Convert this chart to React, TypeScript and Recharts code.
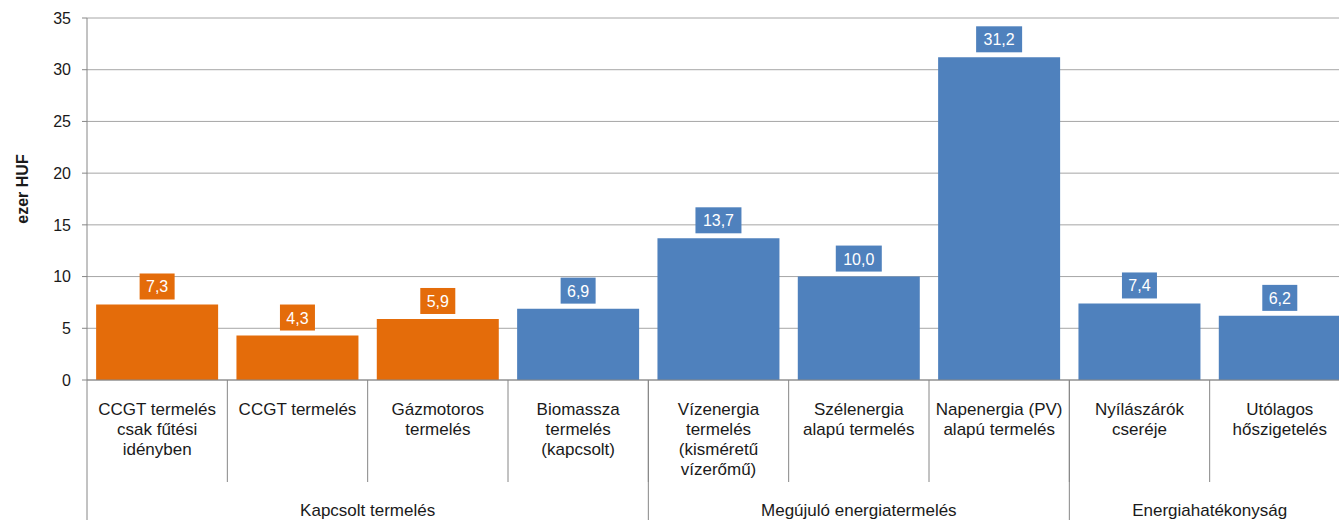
import { BarChart, Bar, Cell, XAxis, YAxis, CartesianGrid, LabelList } from "recharts"

const categories = [
  "CCGT termelés\ncsak fűtési\nidényben",
  "CCGT termelés",
  "Gázmotoros\ntermelés",
  "Biomassza\ntermelés\n(kapcsolt)",
  "Vízenergia\ntermelés\n(kisméretű\nvízerőmű)",
  "Szélenergia\nalapú termelés",
  "Napenergia (PV)\nalapú termelés",
  "Nyílászárók\ncseréje",
  "Utólagos\nhőszigetelés",
]
const values = [7.3, 4.3, 5.9, 6.9, 13.7, 10.0, 31.2, 7.4, 6.2]
const groups = ["Kapcsolt termelés", "Megújuló energiatermelés", "Energiahatékonyság"]
const groupSizes = [4, 3, 2]
const yTicks = [0, 5, 10, 15, 20, 25, 30, 35]

const ORANGE = "#E46C0A"
const BLUE = "#4F81BD"
const barColors = [ORANGE, ORANGE, ORANGE, BLUE, BLUE, BLUE, BLUE, BLUE, BLUE]

const data = categories.map((name, i) => ({ name, value: values[i] }))

const groupStarts = groupSizes.map((_, g) => groupSizes.slice(0, g).reduce((a, b) => a + b, 0))

const WIDTH = 1352
const HEIGHT = 520
const MARGIN = { top: 10, right: 10, left: 0, bottom: 0 }
const Y_W = 79
const BAND = (WIDTH - MARGIN.left - MARGIN.right - Y_W) / categories.length
const AXIS = "#868686"
const GRID = "#a6a6a6"
const FONT = "Arial, 'Liberation Sans', sans-serif"
const TEXT = "#1a1a1a"

function CategoryTick(props: any) {
  const { x, y, payload } = props
  const i = categories.indexOf(payload.value)
  const lines = categories[i].split("\n")
  const g = groupStarts.indexOf(i)
  return (
    <g>
      <line x1={x + BAND / 2} x2={x + BAND / 2} y1={y} y2={y + 102} stroke={AXIS} />
      {lines.map((l, k) => (
        <text
          key={k}
          x={x}
          y={y + 35 + k * 20}
          textAnchor="middle"
          fontSize={17}
          fontFamily={FONT}
          fill={TEXT}
        >
          {l}
        </text>
      ))}
      {g >= 0 && (
        <>
          <line x1={x - BAND / 2} x2={x - BAND / 2} y1={y} y2={y + 160} stroke={AXIS} />
          <text
            x={x - BAND / 2 + (groupSizes[g] * BAND) / 2}
            y={y + 136}
            textAnchor="middle"
            fontSize={17}
            fontFamily={FONT}
            fill={TEXT}
          >
            {groups[g]}
          </text>
        </>
      )}
    </g>
  )
}

function ValueLabel(props: any) {
  const { x, y, width, value, index } = props
  const text = Number(value).toFixed(1).replace(".", ",")
  const w = text.length * 11 + 2
  const cx = x + width / 2
  const bottom = y - 5
  return (
    <g>
      <rect x={cx - w / 2} y={bottom - 26} width={w} height={26} fill={barColors[index]} />
      <text x={cx} y={bottom - 7} textAnchor="middle" fontSize={16} fontFamily={FONT} fill="#fff">
        {text}
      </text>
    </g>
  )
}

export default function App() {
  return (
    <div
      style={{
        position: "fixed",
        left: 0,
        top: 0,
        width: 1339,
        height: 520,
        overflow: "hidden",
        background: "#fff",
      }}
    >
      <div style={{ padding: "8px 0 0 8px" }}>
        <BarChart width={WIDTH} height={HEIGHT} data={data} margin={MARGIN} barCategoryGap="6.5%">
          <CartesianGrid vertical={false} stroke={GRID} />
          <XAxis
            dataKey="name"
            interval={0}
            height={HEIGHT - 372}
            tickLine={false}
            tickSize={0}
            tickMargin={0}
            axisLine={{ stroke: AXIS }}
            tick={<CategoryTick />}
          />
          <YAxis
            width={Y_W}
            domain={[0, 35]}
            ticks={yTicks}
            interval={0}
            axisLine={{ stroke: AXIS }}
            tickLine={{ stroke: AXIS }}
            tickSize={5}
            tickMargin={11}
            tick={{ fontSize: 16, fontFamily: FONT, fill: TEXT }}
            label={{
              content: ({ viewBox }: any) => (
                <text
                  x={viewBox.x + 14}
                  y={viewBox.y + viewBox.height / 2 - 10}
                  transform={`rotate(-90, ${viewBox.x + 14}, ${viewBox.y + viewBox.height / 2 - 10})`}
                  textAnchor="middle"
                  dominantBaseline="central"
                  fontSize={16}
                  fontWeight="bold"
                  fontFamily={FONT}
                  fill={TEXT}
                >
                  ezer HUF
                </text>
              ),
            }}
          />
          <Bar dataKey="value" isAnimationActive={false}>
            {data.map((d, i) => (
              <Cell key={d.name} fill={barColors[i]} />
            ))}
            <LabelList dataKey="value" content={<ValueLabel />} />
          </Bar>
        </BarChart>
      </div>
    </div>
  )
}
